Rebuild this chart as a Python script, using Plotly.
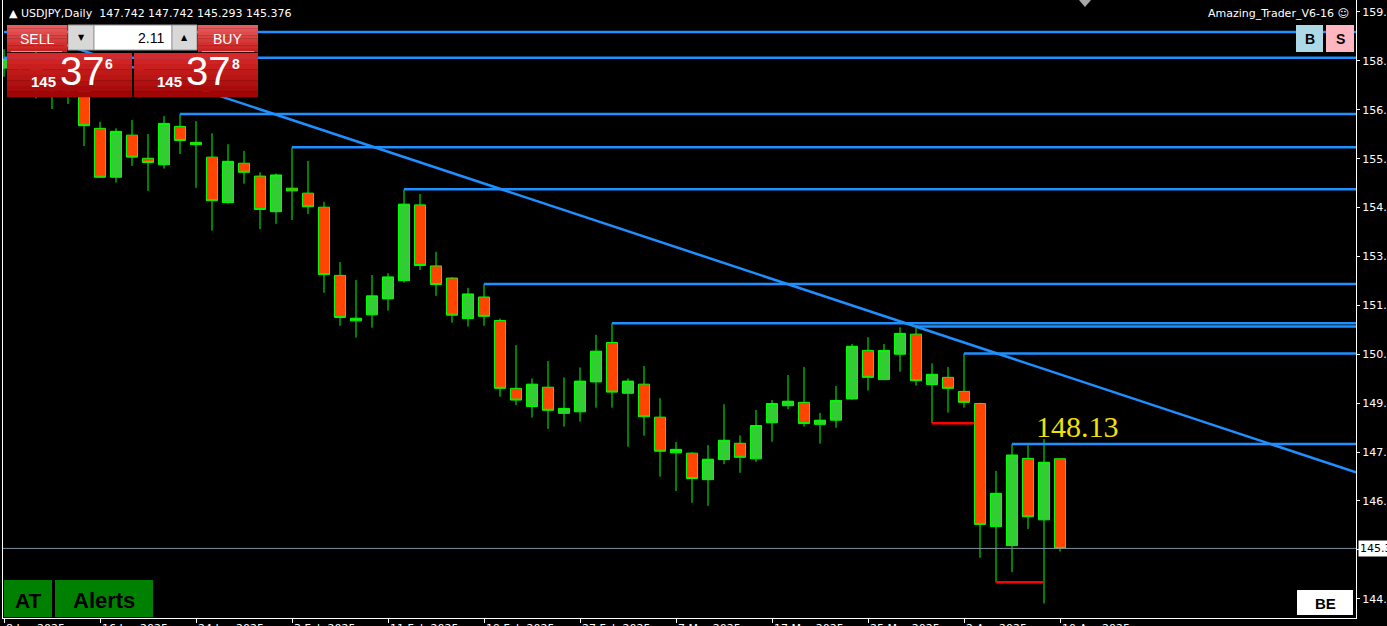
import plotly.graph_objects as go

# ---------------- data ----------------
dates = ["8 Jan 2025", "9 Jan 2025", "10 Jan 2025", "13 Jan 2025", "14 Jan 2025", "15 Jan 2025",
         "16 Jan 2025", "17 Jan 2025", "20 Jan 2025", "21 Jan 2025", "22 Jan 2025", "23 Jan 2025",
         "24 Jan 2025", "27 Jan 2025", "28 Jan 2025", "29 Jan 2025", "30 Jan 2025", "31 Jan 2025",
         "3 Feb 2025", "4 Feb 2025", "5 Feb 2025", "6 Feb 2025", "7 Feb 2025", "10 Feb 2025",
         "11 Feb 2025", "12 Feb 2025", "13 Feb 2025", "14 Feb 2025", "17 Feb 2025", "18 Feb 2025",
         "19 Feb 2025", "20 Feb 2025", "21 Feb 2025", "24 Feb 2025", "25 Feb 2025", "26 Feb 2025",
         "27 Feb 2025", "28 Feb 2025", "3 Mar 2025", "4 Mar 2025", "5 Mar 2025", "6 Mar 2025",
         "7 Mar 2025", "10 Mar 2025", "11 Mar 2025", "12 Mar 2025", "13 Mar 2025", "14 Mar 2025",
         "17 Mar 2025", "18 Mar 2025", "19 Mar 2025", "20 Mar 2025", "21 Mar 2025", "24 Mar 2025",
         "25 Mar 2025", "26 Mar 2025", "27 Mar 2025", "28 Mar 2025", "31 Mar 2025", "1 Apr 2025",
         "2 Apr 2025", "3 Apr 2025", "4 Apr 2025", "7 Apr 2025", "8 Apr 2025", "9 Apr 2025",
         "10 Apr 2025"]

opens = [158.05, 158.29, 158.05, 157.65, 157.45, 157.95, 156.46, 155.17, 156.28, 155.67,
         155.50, 156.51, 156.09, 155.70, 154.50, 155.54, 155.20, 154.26, 154.88, 154.75,
         154.38, 152.58, 151.38, 151.54, 151.96, 152.44, 154.44, 152.83, 152.51, 151.44,
         152.01, 151.39, 149.60, 149.12, 149.63, 148.94, 148.98, 149.77, 150.81, 149.47,
         149.71, 148.84, 147.90, 147.89, 147.19, 147.72, 148.15, 147.74, 148.69, 149.14,
         149.23, 148.65, 148.76, 149.32, 150.60, 149.83, 150.50, 151.03, 149.70, 149.89,
         149.52, 149.20, 145.95, 145.45, 147.75, 146.13, 147.742]
highs = [158.55, 158.42, 158.87, 158.00, 158.20, 158.10, 156.63, 156.46, 156.68, 156.31,
         156.78, 156.84, 156.65, 156.33, 156.04, 155.86, 155.30, 155.27, 155.96, 155.60,
         154.52, 152.93, 152.46, 152.59, 152.64, 154.85, 154.73, 153.20, 152.53, 152.25,
         152.35, 151.44, 150.74, 149.86, 150.32, 149.89, 150.15, 151.01, 151.32, 149.86,
         150.19, 149.34, 148.18, 147.91, 148.10, 149.18, 148.36, 149.03, 149.29, 149.95,
         150.16, 148.95, 149.66, 150.77, 150.95, 150.77, 151.21, 151.23, 150.26, 150.16,
         150.52, 149.22, 147.42, 148.13, 148.10, 148.26, 147.742]
lows = [157.82, 157.78, 157.25, 156.97, 157.10, 155.99, 155.15, 155.03, 155.47, 154.81,
        155.40, 155.78, 154.89, 153.76, 154.48, 155.00, 153.80, 153.94, 154.04, 154.20,
        152.12, 151.25, 150.94, 151.20, 151.65, 152.39, 152.72, 152.04, 151.33, 151.23,
        151.25, 149.38, 149.16, 148.83, 148.53, 148.59, 148.72, 149.09, 149.09, 148.06,
        148.35, 147.27, 146.89, 146.58, 146.50, 147.60, 147.37, 147.66, 148.19, 149.05,
        148.59, 148.14, 148.56, 149.30, 149.54, 149.82, 150.04, 149.67, 148.68, 148.96,
        149.09, 145.13, 144.48, 144.75, 145.89, 143.92, 145.293]
closes = [158.29, 158.05, 157.73, 157.45, 157.95, 156.53, 155.17, 156.38, 155.70, 155.56,
          156.59, 156.14, 156.03, 154.55, 155.59, 155.30, 154.32, 155.23, 154.81, 154.39,
          152.60, 151.47, 151.45, 152.04, 152.54, 154.46, 152.84, 152.34, 151.53, 152.09,
          151.50, 149.60, 149.29, 149.71, 149.02, 149.07, 149.79, 150.58, 149.50, 149.79,
          148.85, 147.94, 147.99, 147.22, 147.73, 148.23, 147.78, 148.62, 149.20, 149.26,
          148.67, 148.76, 149.28, 150.71, 149.89, 150.60, 151.05, 149.80, 149.97, 149.60,
          149.23, 146.01, 146.83, 147.84, 146.21, 147.65, 145.376]

# horizontal support / resistance levels (blue) and the bar they start from
hline_levels = [159.00, 158.32, 156.84, 155.96, 154.85, 152.35, 151.32, 151.23, 150.52, 148.13]
hline_start = [0, 0, 11, 18, 25, 30, 38, 57, 60, 63]
# red marker levels: level, start bar, end bar
red_levels = [148.68, 144.48]
red_start = [58, 62]
red_end = [60.65, 65]
# trend line anchors (bar, price)
trend_bars = [2, 66]
trend_prices = [158.92, 149.97]

ytick_vals = [144.05, 145.34, 146.63, 147.92, 149.21, 150.50, 151.79, 153.08,
              154.37, 155.66, 156.95, 158.24, 159.53]
ytick_text = ["144.050", "145.340", "146.630", "147.920", "149.210", "150.500", "151.790",
              "153.080", "154.370", "155.660", "156.950", "158.240", "159.530"]

symbol = "USDJPY,Daily"
last_price = closes[-1]
level_label = "148.13"

# ---------------- geometry ----------------
W, H = 1387, 626
PL, PR, PT, PB = 3, 1356, 0, 618
XR = [-0.0625, 84.5]
YR = [143.54, 159.846]


def px(x):
    return (x - PL) / (PR - PL)


def py(y):
    return (PB - y) / (PB - PT)


x_idx = list(range(len(dates)))

fig = go.Figure()
fig.add_trace(go.Candlestick(
    x=x_idx, open=opens, high=highs, low=lows, close=closes,
    increasing=dict(fillcolor="#32cd32", line=dict(color="#00ff00", width=1)),
    decreasing=dict(fillcolor="#ff4500", line=dict(color="#00ff00", width=1)),
    whiskerwidth=0, hoverinfo="skip", showlegend=False,
))

shapes = []
annotations = []

# current price line
shapes.append(dict(type="line", xref="paper", yref="y", x0=0, x1=1, y0=last_price, y1=last_price,
                   line=dict(color="#7f8fa0", width=1), layer="above"))

# blue horizontal levels
for lvl, st in zip(hline_levels, hline_start):
    shapes.append(dict(type="line", xref="x", yref="y", x0=st, x1=XR[1], y0=lvl, y1=lvl,
                       line=dict(color="#1e90ff", width=2.5), layer="above"))

# trend line extended to the right edge
slope = (trend_prices[1] - trend_prices[0]) / (trend_bars[1] - trend_bars[0])
shapes.append(dict(type="line", xref="x", yref="y", x0=trend_bars[0], y0=trend_prices[0],
                   x1=XR[1], y1=trend_prices[0] + slope * (XR[1] - trend_bars[0]),
                   line=dict(color="#1e90ff", width=2.5), layer="above"))

# red markers
for lvl, s0, s1 in zip(red_levels, red_start, red_end):
    shapes.append(dict(type="line", xref="x", yref="y", x0=s0, x1=s1, y0=lvl, y1=lvl,
                       line=dict(color="#ff0000", width=2.5), layer="above"))


def rect(x0, y0, x1, y1, color, lc=None, lw=0):
    shapes.append(dict(type="rect", xref="paper", yref="paper", x0=px(x0), x1=px(x1),
                       y0=py(y1), y1=py(y0), fillcolor=color,
                       line=dict(width=lw, color=lc or color), layer="above"))


def hexc(c):
    return tuple(int(c[i:i + 2], 16) for i in (1, 3, 5))


def grad_rect(x0, y0, x1, y1, c_top, c_bot, n=8):
    a, b = hexc(c_top), hexc(c_bot)
    h = (y1 - y0) / n
    for i in range(n):
        t = i / (n - 1)
        col = "#%02x%02x%02x" % tuple(int(round(a[k] + (b[k] - a[k]) * t)) for k in range(3))
        rect(x0, y0 + i * h, x1, y0 + (i + 1) * h + 0.3, col)


def label(x, y, s, size, color="white", family="DejaVu Sans", xanchor="center", weight="normal"):
    annotations.append(dict(xref="paper", yref="paper", x=px(x), y=py(y), text=s, showarrow=False,
                            xanchor=xanchor, yanchor="middle",
                            font=dict(size=size, color=color, family=family, weight=weight)))


# ---- trade panel ----
grad_rect(7, 25, 67, 52, "#e85c5c", "#c82020")
grad_rect(198, 25, 258, 52, "#e85c5c", "#c82020")
rect(11, 51, 62, 52, "#f09090")
rect(202, 51, 254, 52, "#f09090")
grad_rect(7, 53, 132, 97, "#d82828", "#a00606")
grad_rect(134, 53, 258, 97, "#d82828", "#a00606")
rect(68, 25, 94, 50, "#d8d8d8", "#9a9a9a", 1)
rect(94, 25, 172, 50, "#ffffff", "#9a9a9a", 1)
rect(172, 25, 197, 50, "#d8d8d8", "#9a9a9a", 1)
label(37, 39, "SELL", 14, family="Liberation Sans")
label(227, 39, "BUY", 14, family="Liberation Sans")
label(81, 37, "▼", 8, color="black")
label(184, 37, "▲", 8, color="black")
label(166, 38, "2.11", 14, color="black", family="Liberation Sans", xanchor="right")
label(43, 81, "145", 15, family="Liberation Sans", weight="bold")
label(82, 71, "37", 40, family="Liberation Sans")
label(109, 64, "6", 14, family="Liberation Sans", weight="bold")
label(169, 81, "145", 15, family="Liberation Sans", weight="bold")
label(208, 71, "37", 40, family="Liberation Sans")
label(236, 64, "8", 14, family="Liberation Sans", weight="bold")

# ---- B / S buttons ----
rect(1296, 25, 1323, 52, "#add8e6")
rect(1326, 25, 1354, 52, "#ffb6c1")
label(1309.5, 39, "B", 14, color="black", family="Liberation Sans", weight="bold")
label(1340, 39, "S", 14, color="black", family="Liberation Sans", weight="bold")

# ---- bottom buttons ----
rect(4, 580, 52, 617, "#008000")
rect(55, 580, 153, 617, "#008000")
label(28, 600, "AT", 21, color="black", family="Liberation Sans", weight="bold")
label(104, 600, "Alerts", 22, color="black", family="Liberation Sans", weight="bold")
rect(1297, 590, 1353, 615, "#ffffff")
label(1325, 603, "BE", 15, color="black", family="Liberation Sans", weight="bold")

# ---- small shift marker at the top ----
shapes.append(dict(type="path", xref="paper", yref="paper",
                   path="M %f,%f L %f,%f L %f,%f Z" % (px(1079), py(0), px(1091), py(0), px(1085), py(7)),
                   fillcolor="#a8a8a8", line=dict(width=0), layer="above"))

# ---- header texts ----
header = "▲ %s  %.3f %.3f %.3f %.3f" % (symbol, opens[-1], highs[-1], lows[-1], closes[-1])
label(7, 13, header, 11, xanchor="left")
label(1351, 14, "Amazing_Trader_V6-16 ☺", 11, xanchor="right")

# ---- level label ----
annotations.append(dict(xref="x", yref="y", x=64.4, y=hline_levels[-1], text=level_label,
                        showarrow=False, xanchor="left", yanchor="bottom", yshift=-1,
                        font=dict(size=30, color="#f2e205", family="Liberation Serif")))

# ---- current price box on the axis ----
annotations.append(dict(xref="paper", yref="y", x=1, y=last_price, xshift=2, text="%.3f" % last_price,
                        showarrow=False, xanchor="left", yanchor="middle", bgcolor="#ffffff",
                        borderpad=1, font=dict(size=11, color="black", family="DejaVu Sans")))

# ---- date labels under the axis ----
label_pos = x_idx[::6]
for k in label_pos:
    annotations.append(dict(xref="x", yref="paper", x=k, y=0, yshift=-2, text=dates[k],
                            showarrow=False, xanchor="left", yanchor="top",
                            font=dict(size=11, color="white", family="DejaVu Sans")))

fig.update_layout(
    width=W, height=H, margin=dict(l=PL, r=W - PR, t=PT, b=H - PB, autoexpand=False),
    paper_bgcolor="black", plot_bgcolor="black", showlegend=False,
    boxgap=0.3125, boxgroupgap=0,
    shapes=shapes, annotations=annotations,
    xaxis=dict(range=XR, showgrid=False, zeroline=False, showline=True, linecolor="white",
               linewidth=1, ticks="outside", ticklen=4, tickcolor="white", tickvals=label_pos,
               showticklabels=False, rangeslider=dict(visible=False), fixedrange=True,
               automargin=False),
    yaxis=dict(range=YR, side="right", showgrid=False, zeroline=False, showline=True, mirror=True,
               linecolor="white", linewidth=1, ticks="outside", ticklen=3, tickcolor="white",
               tickvals=ytick_vals, ticktext=ytick_text, automargin=False,
               tickfont=dict(size=11, color="white", family="DejaVu Sans"), fixedrange=True),
)

fig.write_html(
    "out.html",
    config={"displayModeBar": False},
    post_script="document.body.style.margin='0';document.body.style.background='black';"
                "document.body.style.overflow='hidden';",
)
